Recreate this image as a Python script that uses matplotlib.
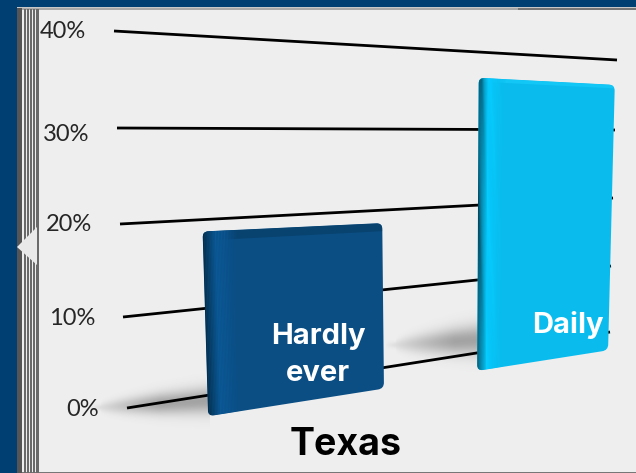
import matplotlib
matplotlib.use("Agg")
import matplotlib.pyplot as plt
import numpy as np
from matplotlib.colors import LinearSegmentedColormap
from matplotlib.patches import PathPatch, Polygon, Rectangle
from matplotlib.path import Path
from matplotlib.transforms import Affine2D, Transform

categories = ["Hardly\never", "Daily"]
values = [21, 39]
ticks = [0, 10, 20, 30, 40]
tick_labels = ["0%", "10%", "20%", "30%", "40%"]
group = "Texas"

# where the gridlines start and stop in the picture (tilted floor/wall)
left_x = [127, 123, 120, 117, 114]
left_y = [408, 317, 224, 128, 31]
right_x = [610, 611, 613, 615, 617]
right_y = [332, 266, 198, 130, 60]
label_dy = [1, 1, 0, 6, 1]

# bar placement along the axis (0-1), and how far it stands in front of the wall
bar_u = [(0.168, 0.532), (0.725, 0.996)]
bar_off = [21, 18]
bar_cols = [("#04304f", "#0a5896", "#0a4e84"), ("#05495f", "#05ccff", "#0abcee")]
top_cols = ["#08426f", "#12c6f6"]
top_h = [1.0, 0.5]
text_pos = [(318, 355), (568, 325)]


class Persp(Transform):
    input_dims = 2
    output_dims = 2

    def transform_non_affine(self, pts):
        pts = np.asarray(pts, dtype=float)
        u, v = pts[:, 0], pts[:, 1]
        x0 = np.interp(v, ticks, left_x)
        y0 = np.interp(v, ticks, left_y)
        x1 = np.interp(v, ticks, right_x)
        y1 = np.interp(v, ticks, right_y)
        return np.column_stack([x0 + u * (x1 - x0), y0 + u * (y1 - y0)])


def rounded(c, r):
    verts = []
    codes = []
    for i in range(4):
        p = np.array(c[i])
        a = np.array(c[i - 1]) - p
        b = np.array(c[(i + 1) % 4]) - p
        s = p + a / np.linalg.norm(a) * r
        e = p + b / np.linalg.norm(b) * r
        verts += [s, p, e]
        codes += [Path.MOVETO if i == 0 else Path.LINETO, Path.CURVE3, Path.CURVE3]
    verts.append(verts[0])
    codes.append(Path.CLOSEPOLY)
    return Path(verts, codes)


def shadow(ax, x0, x1, y0, y1, half):
    # soft wedge lying on the floor, fading out to the left
    xs = np.arange(x0 - 10, x1 + 1)
    ys = np.arange(min(y0, y1) - 3 * half, max(y0, y1) + 3 * half)
    X, Y = np.meshgrid(xs, ys)
    t = np.clip((X - x0) / (x1 - x0), 0, 1)
    mid = y0 + (y1 - y0) * t
    h = 3 + half * t ** 0.5
    a = 0.5 * np.exp(-((Y - mid) / h) ** 2) * np.clip((X - x0 + 10) / 70, 0, 1) ** 0.8
    img = np.zeros(X.shape + (4,))
    img[..., :3] = 0.35
    img[..., 3] = a
    ax.imshow(img, extent=(xs[0], xs[-1], ys[-1], ys[0]), interpolation="bilinear",
              aspect="auto", zorder=2)


fig = plt.figure(figsize=(6.36, 4.73), dpi=100, facecolor="#003f72")
ax = fig.add_axes([0, 0, 1, 1])
ax.axis("off")
plot = Persp() + ax.transData

# slide frame
ax.add_patch(Rectangle((17, 7), 620, 465, fc="#eeeeee", ec="none", zorder=0))
ax.add_patch(Rectangle((17, 7), 620, 1, fc="#c8c8c8", ec="none", zorder=0.5))
ax.add_patch(Rectangle((17, 8), 501, 2, fc="#a9a9a9", ec="none", zorder=0.5))
ax.add_patch(Rectangle((518, 8), 119, 2, fc="#777777", ec="none", zorder=0.5))
ax.add_patch(Rectangle((17, 472), 620, 1, fc="#777777", ec="none", zorder=0.5))
ax.add_patch(Rectangle((17, 8), 5, 465, fc="#555555", ec="none", zorder=1))
for sx, sw in [(24, 1.5), (27, 1.5), (30, 1.5), (33, 1.5), (36, 2.5)]:
    ax.add_patch(Rectangle((sx, 9), sw, 464, fc="#6a6a6a", ec="none", zorder=1))
ax.add_patch(Polygon([(17, 247), (37, 227), (37, 265)], fc="#e9e9e9", ec="none", zorder=1.5))

shadow(ax, 100, 210, 408, 401, 10)
shadow(ax, 395, 478, 345, 340, 12)

for t, lab, dy in zip(ticks, tick_labels, label_dy):
    ax.plot([0, 1], [t, t], color="black", lw=2, transform=plot, zorder=3,
            solid_capstyle="butt")
    px = Persp().transform(np.array([[0, t]]))[0]
    ax.text(px[0] - 28, px[1] + dy, lab, ha="right", va="center", fontsize=17,
            family="Lato", color="#262626", zorder=6)

for i, cat in enumerate(categories):
    u0, u1 = bar_u[i]
    v = values[i]
    shift = Affine2D().translate(0, bar_off[i])
    px = Persp() + shift
    corners = px.transform(np.array([[u0, v], [u1, v], [u1, 0], [u0, 0]], dtype=float))
    outline = PathPatch(rounded(corners, 6), fc=bar_cols[i][2], ec="none", zorder=4,
                        transform=ax.transData)
    ax.add_patch(outline)
    tr = Persp() + shift + ax.transData

    # lit strip along the top
    bars = ax.bar(u0, top_h[i], u1 - u0, bottom=v - top_h[i], align="edge", color=top_cols[i],
                  ec="none", transform=tr, zorder=4.1)
    bars[0].set_clip_path(outline)

    # rounded left side of the bar, dark edge to bright to flat colour
    cmap = LinearSegmentedColormap.from_list(
        "side", [(0, bar_cols[i][0]), (0.35, bar_cols[i][1]), (1, bar_cols[i][2])])
    side = 0.2 * (u1 - u0)
    n = 24
    w = side / n
    for k in range(n):
        col = list(cmap(k / (n - 1)))
        col[3] = 1 if k < n * 0.6 else (n - k) / (n * 0.4)
        bars = ax.bar(u0 + k * w, v, w, bottom=0, align="edge", color=col,
                      ec="none", transform=tr, zorder=4.2)
        bars[0].set_clip_path(outline)

    tx, ty = text_pos[i]
    ax.text(tx, ty, cat, ha="center", va="center", color="white", fontsize=21,
            fontweight="bold", family="Inter", linespacing=1.45, zorder=6)

ax.text(346, 445, group, ha="center", va="center", color="black", fontsize=27,
        fontweight="bold", family="Inter", zorder=6)

ax.set_xlim(0, 636)
ax.set_ylim(473, 0)
fig.savefig("out.png", dpi=100, facecolor=fig.get_facecolor())
